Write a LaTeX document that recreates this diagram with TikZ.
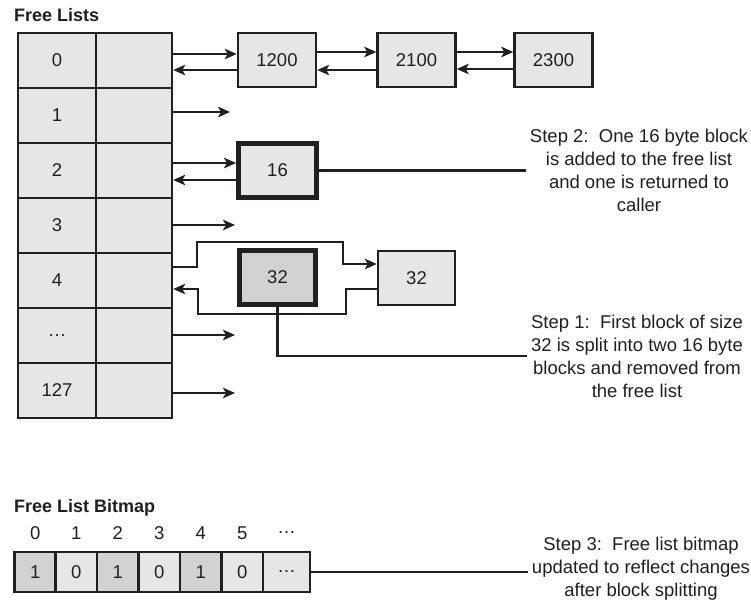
\documentclass[tikz,border=0pt]{standalone}
\usepackage{fontspec}
\setmainfont{Liberation Sans}
\usetikzlibrary{arrows.meta}
\definecolor{ink}{HTML}{231F20}
\definecolor{cellfill}{HTML}{E6E6E8}
\definecolor{darkfill}{HTML}{D2D2D4}
\begin{document}
\begin{tikzpicture}[x=1pt,y=-1pt,
  every node/.style={font=\fontsize{18.5}{23}\selectfont, text=ink},
  cell/.style={draw=ink, line width=2.5pt, fill=cellfill, minimum height=55pt, inner sep=0pt},
  bcell/.style={draw=ink, line width=2.5pt, minimum height=40pt, inner sep=0pt},
  blk/.style={draw=ink, line width=2.5pt, fill=cellfill, minimum width=78pt, minimum height=54pt, inner sep=0pt},
  thickblk/.style={blk, line width=5pt},
  arr/.style={draw=ink, line width=2.2pt, -{Stealth[length=12pt,width=10.5pt,inset=3pt]}},
  link/.style={draw=ink, line width=2.2pt},
  note/.style={align=center, inner ysep=0pt, inner xsep=4pt},
  title/.style={font=\bfseries\fontsize{18}{22}\selectfont, anchor=west, inner sep=0pt},
]
\useasboundingbox (0,0) rectangle (751,602);

% titles
\node[title] (t1) at (14,15) {Free Lists};
\node[title] (t2) at (14,508) {Free List Bitmap};

% free list table
\foreach \i/\t in {0/0,1/1,2/2,3/3,4/4,5/…,6/127}{
  \node[cell, minimum width=78pt] (ra\i) at (57,60.5+55*\i) {\t};
  \node[cell, minimum width=76pt] (rb\i) at (134,60.5+55*\i) {};
}

% chain of row 0
\node[blk] (n1200) at (277,60) {1200};
\node[blk] (n2100) at (416.5,60) {2100};
\node[blk] (n2300) at (553.5,60) {2300};
\draw[arr] ([yshift=6.5pt]rb0.east) -- ([yshift=6.5pt]rb0.east -| n1200.west);
\draw[arr] ([yshift=-10pt]n1200.west) -- ([yshift=-10pt]n1200.west -| rb0.east);
\draw[arr] ([yshift=8pt]n1200.east) -- ([yshift=8pt]n1200.east -| n2100.west);
\draw[arr] ([yshift=-10pt]n2100.west) -- ([yshift=-10pt]n2100.west -| n1200.east);
\draw[arr] ([yshift=8pt]n2100.east) -- ([yshift=8pt]n2100.east -| n2300.west);
\draw[arr] ([yshift=-9pt]n2300.west) -- ([yshift=-9pt]n2300.west -| n2100.east);

% empty lists
\coordinate (e1) at (230,112);
\coordinate (e3) at (235,225);
\coordinate (e5) at (235,335);
\coordinate (e6) at (235,393);
\draw[arr] (e1 -| rb1.east) -- (e1);
\draw[arr] (e3 -| rb3.east) -- (e3);
\draw[arr] (e5 -| rb5.east) -- (e5);
\draw[arr] (e6 -| rb6.east) -- (e6);

% row 2: block 16
\node[thickblk] (n16) at (277.5,170.5) {16};
\draw[arr] ([yshift=7.5pt]rb2.east) -- ([yshift=7.5pt]rb2.east -| n16.west);
\draw[arr] ([yshift=-9.5pt]n16.west) -- ([yshift=-9.5pt]n16.west -| rb2.east);

% row 4: block 32
\node[thickblk, fill=darkfill, minimum width=76pt] (n32a) at (277.5,277.5) {32};
\node[blk, minimum width=77pt] (n32b) at (416.5,278) {32};
\draw[arr] ([yshift=13.5pt]rb4.east) -- ++(24,0) |- (343,242) |- ([yshift=14pt]n32b.west);
\draw[arr] ([yshift=-11pt]n32b.west) -- ++(-31,0) |- (198,314) |- ([yshift=-8.5pt]rb4.east);

% notes
\node[note] (s2) at (639,170) {Step 2:\ \ One 16 byte block\\is added to the free list\\and one is returned to\\caller};
\node[note] (s1) at (637,356) {Step 1:\ \ First block of size\\32 is split into two 16 byte\\blocks and removed from\\the free list};
\node[note] (s3) at (641,569) {Step 3:\ \ Free list bitmap\\updated to reflect changes\\after block splitting};
\draw[link] (n16.east) -- (n16.east -| s2.west);
\draw[link] (n32a.south) |- (s1.west);

% bitmap
\foreach \i/\x/\v/\f in {0/35.25/1/darkfill,1/76.25/0/cellfill,2/117.75/1/darkfill,3/159.25/0/cellfill,4/200.75/1/darkfill,5/242.25/0/cellfill}{
  \node[bcell, fill=\f, minimum width=41.5pt] (b\i) at (\x,572) {\v};
  \node (l\i) at (\x,533) {\i};
}
\node[bcell, fill=cellfill, minimum width=47pt] (b6) at (286.5,572) {…};
\node (l6) at (286.5,533) {…};
\draw[link] (b6.east) -- (b6.east -| s3.west);
\end{tikzpicture}
\end{document}
